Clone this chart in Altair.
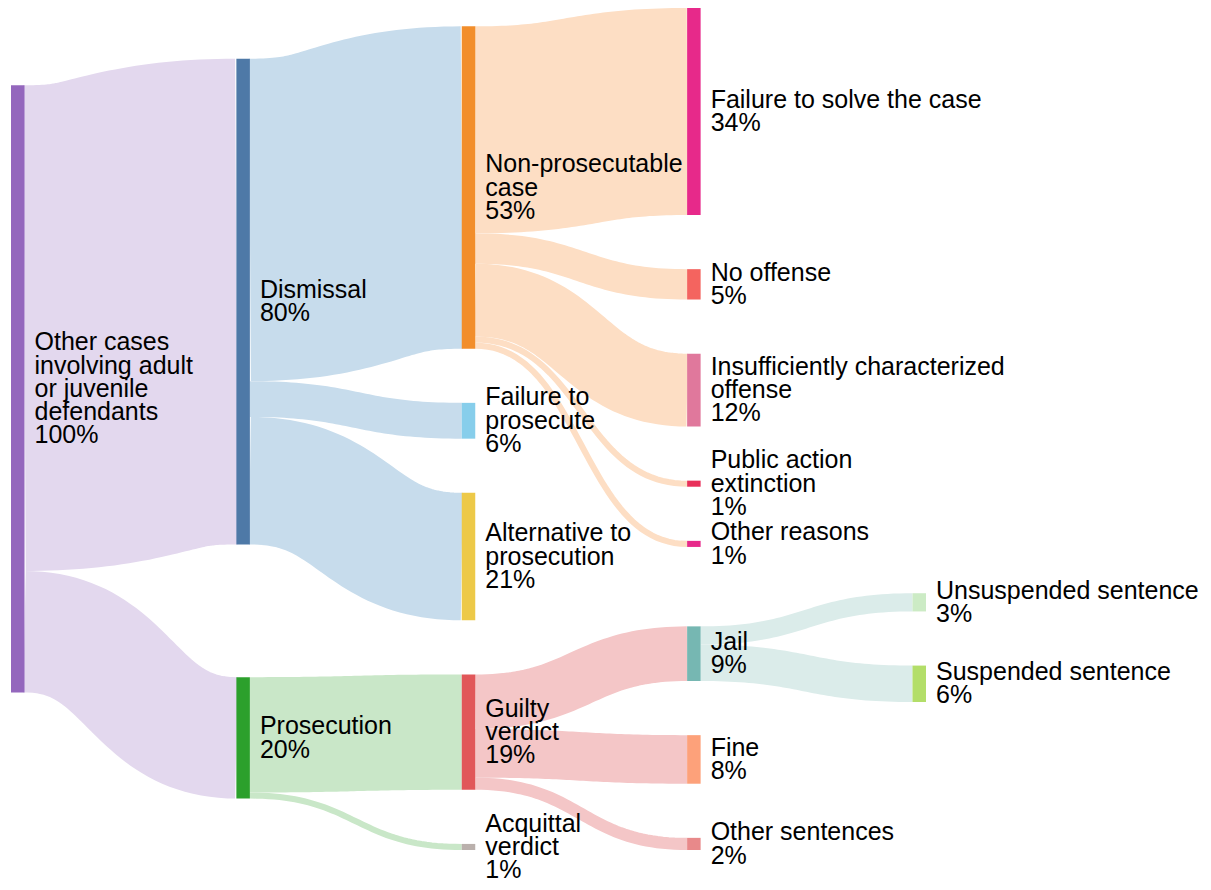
import altair as alt
import pandas as pd
import numpy as np

# ---------------- data ----------------
NODE_NAMES = [
    "Other cases involving adult or juvenile defendants",
    "Dismissal", "Prosecution",
    "Non-prosecutable case", "Failure to prosecute", "Alternative to prosecution",
    "Guilty verdict", "Acquittal verdict",
    "Failure to solve the case", "No offense", "Insufficiently characterized offense",
    "Public action extinction", "Other reasons",
    "Jail", "Fine", "Other sentences",
    "Unsuspended sentence", "Suspended sentence",
]
NODE_LABELS = [
    "Other cases\ninvolving adult\nor juvenile\ndefendants",
    "Dismissal", "Prosecution",
    "Non-prosecutable\ncase", "Failure to\nprosecute", "Alternative to\nprosecution",
    "Guilty\nverdict", "Acquittal\nverdict",
    "Failure to solve the case", "No offense", "Insufficiently characterized\noffense",
    "Public action\nextinction", "Other reasons",
    "Jail", "Fine", "Other sentences",
    "Unsuspended sentence", "Suspended sentence",
]
LINK_SOURCE = [0, 0, 1, 1, 1, 2, 2, 3, 3, 3, 3, 3, 6, 6, 6, 13, 13]
LINK_TARGET = [1, 2, 3, 4, 5, 6, 7, 8, 9, 10, 11, 12, 13, 14, 15, 16, 17]
LINK_VALUE = [80.0, 20.0, 53.1, 5.9, 21.0, 19.0, 1.0, 34.1, 5.0, 12.0, 1.0, 1.0,
              9.0, 8.0, 2.0, 3.0, 6.0]

# ---------------- styles ----------------
NODE_COLORS = [
    "#9467bd",
    "#4e79a7", "#2ca02c",
    "#f28e2b", "#87ceeb", "#edc948", "#e15759", "#bab0ac",
    "#e7298a", "#f4645f", "#e0789c", "#e8305a", "#e7298a",
    "#76b7b2", "#fda17a", "#e8898a",
    "#ccebc5", "#b3de69",
]
# pastel flow colour used for links leaving each node (by node index)
FLOW_COLORS = {0: "#e3d8ee", 1: "#c7dcec", 2: "#c9e7c8", 3: "#fddec4",
               6: "#f4c6c7", 13: "#dbecea"}

# ---------------- layout parameters ----------------
W, H = 1195, 874
X_EXT = (3.0, 918.0)
Y_EXT = (0.0, 842.0)
NODE_W = 13.5
PY = 54.14          # vertical gap between nodes
KY = 6.071          # pixels per percentage point
FONT_SIZE = 25
LINE_H = 23.3
LABEL_GAP = 10


class Node:
    pass


class Link:
    pass


def sankey():
    """Column layout: bottom-aligned stacks, one left-to-right and one
    right-to-left relaxation pass (d3-sankey style), collisions resolved."""
    y0, y1 = Y_EXT
    py = PY
    nodes = []
    for i in range(len(NODE_NAMES)):
        n = Node()
        n.index = i
        n.src = []
        n.tgt = []
        nodes.append(n)
    links = []
    for k, (s, t, v) in enumerate(zip(LINK_SOURCE, LINK_TARGET, LINK_VALUE)):
        l = Link()
        l.index = k
        l.source = nodes[s]
        l.target = nodes[t]
        l.value = v
        l.width = v * KY
        links.append(l)
        nodes[s].src.append(l)
        nodes[t].tgt.append(l)
    for n in nodes:
        n.value = max(sum(l.value for l in n.src), sum(l.value for l in n.tgt))
    current = list(nodes)
    depth = 0
    while current:
        nxt = []
        for n in current:
            n.depth = depth
            for l in n.src:
                if all(l.target is not m for m in nxt):
                    nxt.append(l.target)
        current = nxt
        depth += 1
    nlayers = max(n.depth for n in nodes) + 1
    kx = (X_EXT[1] - X_EXT[0] - NODE_W) / (nlayers - 1)
    columns = [[] for _ in range(nlayers)]
    for n in nodes:
        n.x0 = X_EXT[0] + n.depth * kx
        n.x1 = n.x0 + NODE_W
        columns[n.depth].append(n)

    # bottom-aligned initial stacks
    for col in columns:
        y = y0
        for n in col:
            n.y0 = y
            n.y1 = y + n.value * KY
            y = n.y1 + py
        slack = y1 - y + py
        for n in col:
            n.y0 += slack
            n.y1 += slack

    def sort_links(n):
        for l in n.tgt:
            l.source.src.sort(key=lambda q: (q.target.y0, q.index))
        for l in n.src:
            l.target.tgt.sort(key=lambda q: (q.source.y0, q.index))

    for n in nodes:
        sort_links(n)

    def target_top(source, target):
        y = source.y0 - (len(source.src) - 1) * py / 2
        for l in source.src:
            if l.target is target:
                break
            y += l.width + py
        for l in target.tgt:
            if l.source is source:
                break
            y -= l.width
        return y

    def source_top(source, target):
        y = target.y0 - (len(target.tgt) - 1) * py / 2
        for l in target.tgt:
            if l.source is source:
                break
            y += l.width + py
        for l in source.src:
            if l.target is target:
                break
            y -= l.width
        return y

    def top_to_bottom(col, y, i):
        while i < len(col):
            n = col[i]
            dy = y - n.y0
            if dy > 1e-6:
                n.y0 += dy
                n.y1 += dy
            y = n.y1 + py
            i += 1

    def bottom_to_top(col, y, i):
        while i >= 0:
            n = col[i]
            dy = n.y1 - y
            if dy > 1e-6:
                n.y0 -= dy
                n.y1 -= dy
            y = n.y0 - py
            i -= 1

    def resolve(col):
        i = len(col) >> 1
        subj = col[i]
        bottom_to_top(col, subj.y0 - py, i - 1)
        top_to_bottom(col, subj.y1 + py, i + 1)
        bottom_to_top(col, y1, len(col) - 1)
        top_to_bottom(col, y0, 0)

    # left to right
    for ci in range(1, nlayers):
        col = columns[ci]
        for t in col:
            ws = sum(l.value for l in t.tgt)
            if ws > 0:
                target = sum(target_top(l.source, t) * l.value for l in t.tgt) / ws
                t.y1 += target - t.y0
                t.y0 = target
                sort_links(t)
        col.sort(key=lambda n: n.y0)
        resolve(col)
    # right to left
    for ci in range(nlayers - 2, -1, -1):
        col = columns[ci]
        for s in col:
            ws = sum(l.value for l in s.src)
            if ws > 0:
                target = sum(source_top(s, l.target) * l.value for l in s.src) / ws
                s.y1 += target - s.y0
                s.y0 = target
                sort_links(s)
        col.sort(key=lambda n: n.y0)
        resolve(col)

    for n in nodes:
        a = n.y0
        b = n.y0
        for l in n.src:
            l.sy = a + l.width / 2
            a += l.width
        for l in n.tgt:
            l.ty = b + l.width / 2
            b += l.width
    return nodes, links


nodes, links = sankey()

node_df = pd.DataFrame({
    "name": NODE_NAMES,
    "x0": [n.x0 for n in nodes],
    "x1": [n.x1 for n in nodes],
    "y0": [n.y0 for n in nodes],
    "y1": [n.y1 for n in nodes],
    "color": NODE_COLORS,
})
nlines = np.array([lab.count("\n") + 2 for lab in NODE_LABELS])
node_df["tx"] = node_df["x1"] + LABEL_GAP
node_df["ty"] = (node_df["y0"] + node_df["y1"]) / 2 - (nlines - 1) * LINE_H / 2
node_df["label"] = [
    f"{lab}\n{int(round(n.value))}%" for lab, n in zip(NODE_LABELS, nodes)
]

# links drawn as horizontal cubic Bezier ribbons (stroke width = flow)
T = np.linspace(0.0, 1.0, 49)
rows = []
for l in links:
    xs, xt = l.source.x1, l.target.x0
    xm = (xs + xt) / 2
    ys, yt = l.sy, l.ty
    bx = (1 - T) ** 3 * xs + 3 * (1 - T) ** 2 * T * xm + 3 * (1 - T) * T ** 2 * xm + T ** 3 * xt
    by = (1 - T) ** 3 * ys + 3 * (1 - T) ** 2 * T * ys + 3 * (1 - T) * T ** 2 * yt + T ** 3 * yt
    for k, (px, pyy) in enumerate(zip(bx, by)):
        rows.append({"link": l.index, "t": k, "x": float(px), "y": float(pyy),
                     "w": max(1.0, l.width), "color": FLOW_COLORS[l.source.index]})
link_df = pd.DataFrame(rows)

xs_ = alt.Scale(domain=[0, W], range=[0, W], nice=False, zero=False)
ys_ = alt.Scale(domain=[0, H], range=[0, H], nice=False, zero=False)

link_layer = alt.Chart(link_df).mark_line(strokeCap="butt").encode(
    x=alt.X("x:Q", scale=xs_, axis=None),
    y=alt.Y("y:Q", scale=ys_, axis=None),
    detail="link:N",
    order="t:Q",
    color=alt.Color("color:N", scale=None),
    strokeWidth=alt.StrokeWidth("w:Q", scale=None),
)

node_layer = alt.Chart(node_df).mark_rect().encode(
    x=alt.X("x0:Q", scale=xs_, axis=None),
    x2="x1:Q",
    y=alt.Y("y0:Q", scale=ys_, axis=None),
    y2="y1:Q",
    color=alt.Color("color:N", scale=None),
)

text_layer = alt.Chart(node_df).mark_text(
    align="left", baseline="middle", fontSize=FONT_SIZE, lineHeight=LINE_H,
    font="Liberation Sans", lineBreak="\n", color="black",
).encode(
    x=alt.X("tx:Q", scale=xs_, axis=None),
    y=alt.Y("ty:Q", scale=ys_, axis=None),
    text="label:N",
)

chart = alt.layer(link_layer, node_layer, text_layer).properties(
    width=W, height=H, padding=0, autosize=alt.AutoSizeParams(type="none"),
).configure_view(strokeWidth=0)

chart.save("out.html", embed_options={"renderer": "svg", "actions": False})
